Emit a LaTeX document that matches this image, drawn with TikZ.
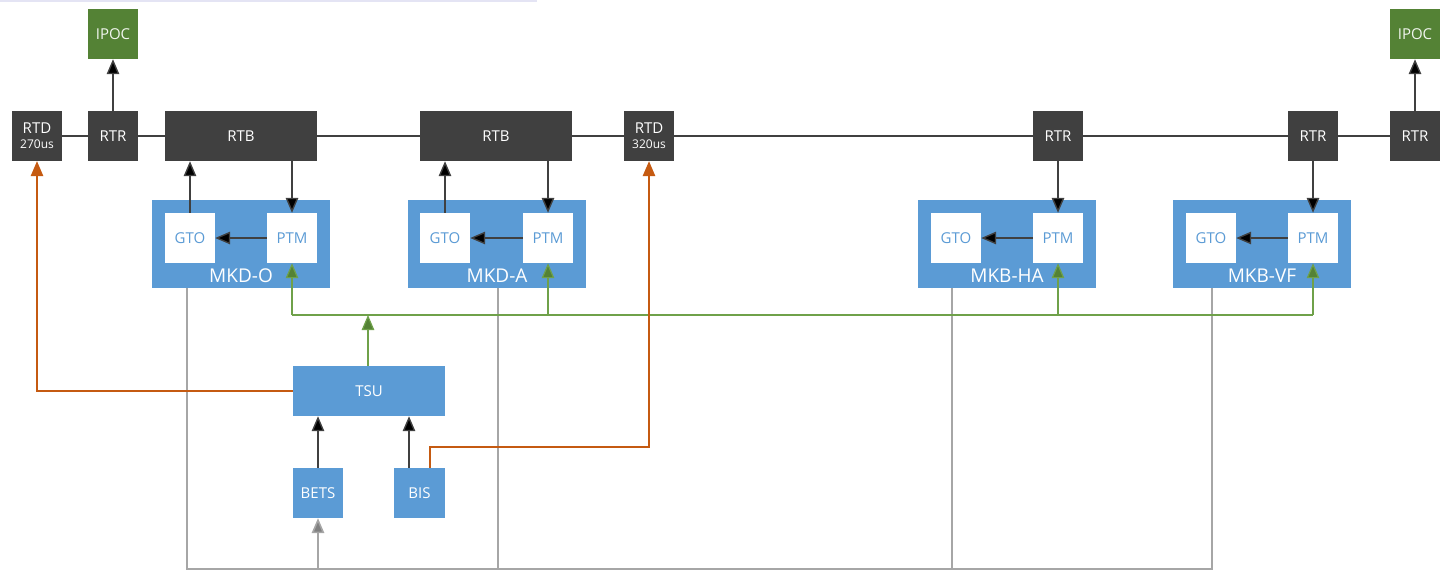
\documentclass[tikz,border=0pt]{standalone}
\usepackage{fontspec}
\setmainfont{Open Sans}
\usetikzlibrary{arrows.meta}
\definecolor{dk}{HTML}{404040}
\definecolor{bl}{HTML}{5B9BD5}
\definecolor{gn}{HTML}{548235}
\definecolor{gnl}{HTML}{6FA14A}
\definecolor{org}{HTML}{C55A11}
\definecolor{gy}{HTML}{A6A6A6}
\definecolor{lav}{HTML}{E4E4F4}
\tikzset{
  base/.style={inner sep=0pt, minimum height=50pt, font=\fontsize{15}{17}\selectfont},
  dbox/.style={base, fill=dk, text=white},
  gbox/.style={base, fill=gn, text=white!92!gn},
  bbox/.style={base, fill=bl, text=white},
  wbox/.style={base, fill=white, text=bl, minimum width=50pt},
  mkbox/.style={inner sep=0pt, fill=bl, minimum width=178pt, minimum height=88pt},
  mklab/.style={inner sep=0pt, text=white, font=\fontsize{19}{21}\selectfont},
  tip/.style={-{Triangle[width=12.5pt,length=15pt,fill=black]}},
  ln/.style={draw=dk, line width=1.4pt},
  arr/.style={ln, tip},
  grn/.style={draw=gnl, line width=1.2pt},
  garr/.style={grn, -{Triangle[width=12.5pt,length=15pt,fill=gn]}},
  oarr/.style={draw=org, line width=1.3pt, -{Triangle[width=12.5pt,length=15pt]}},
  gry/.style={draw=gy, line width=1.6pt},
  garrow/.style={gry, -{Triangle[width=12.5pt,length=15pt,fill=gray]}},
}
\begin{document}
\begin{tikzpicture}[x=1pt,y=-1pt]
\useasboundingbox (0,0) rectangle (1443,571);
\fill[lav] (0,0) rectangle (537,1.5);

% top row
\node[gbox, minimum width=50pt] (ipocL) at (113,34) {IPOC};
\node[gbox, minimum width=50pt] (ipocR) at (1415,34) {IPOC};
\node[dbox, minimum width=50pt, align=center] (rtdL) at (37,136) {RTD\\[-2pt]{\fontsize{12}{13}\selectfont 270us}};
\node[dbox, minimum width=50pt] (rtrL) at (113,136) {RTR};
\node[dbox, minimum width=152pt] (rtb1) at (241,136) {RTB};
\node[dbox, minimum width=152pt] (rtb2) at (496,136) {RTB};
\node[dbox, minimum width=50pt, align=center] (rtd2) at (649,136) {RTD\\[-2pt]{\fontsize{12}{13}\selectfont 320us}};
\node[dbox, minimum width=50pt] (rtr3) at (1058,136) {RTR};
\node[dbox, minimum width=50pt] (rtr4) at (1313,136) {RTR};
\node[dbox, minimum width=50pt] (rtr5) at (1415,136) {RTR};

% MK boxes
\node[mkbox] (mkdO) at (241,244) {};
\node[mkbox] (mkdA) at (497,244) {};
\node[mkbox] (mkbH) at (1007,244) {};
\node[mkbox] (mkbV) at (1262,244) {};
\node[wbox] (gtoO) at (190,238) {GTO};
\node[wbox] (ptmO) at (292,238) {PTM};
\node[wbox] (gtoA) at (445,238) {GTO};
\node[wbox] (ptmA) at (548,238) {PTM};
\node[wbox] (gtoH) at (956,238) {GTO};
\node[wbox] (ptmH) at (1058,238) {PTM};
\node[wbox] (gtoV) at (1211,238) {GTO};
\node[wbox] (ptmV) at (1313,238) {PTM};
\node[mklab] (labO) at (241,276) {MKD-O};
\node[mklab] (labA) at (497,276) {MKD-A};
\node[mklab] (labH) at (1007,276) {MKB-HA};
\node[mklab] (labV) at (1262,276) {MKB-VF};

% lower nodes
\node[bbox, minimum width=152pt] (tsu) at (369,391) {TSU};
\node[bbox, minimum width=50pt] (bets) at (318,493) {BETS};
\node[bbox, minimum width=51pt] (bis) at (419.5,493) {BIS};

% coordinates
\coordinate (gL) at (292,315);
\coordinate (gR) at (1313,315);
\coordinate (ob) at (649,447);
\coordinate (b1) at (187,569);
\coordinate (b2) at (498,569);
\coordinate (b3) at (952,569);
\coordinate (b4) at (1212,569);

% main bus
\draw[ln] (rtdL) -- (rtrL) -- (rtb1) -- (rtb2) -- (rtd2) -- (rtr3) -- (rtr4) -- (rtr5);
\draw[arr] (rtrL) -- (ipocL);
\draw[arr] (rtr5) -- (ipocR);

% RTB / RTR to modules
\draw[arr] (gtoO.north) -- (gtoO.north |- rtb1.south);
\draw[arr] (rtb1.south -| ptmO) -- (ptmO.north);
\draw[arr] (gtoA.north) -- (gtoA.north |- rtb2.south);
\draw[arr] (rtb2.south -| ptmA) -- (ptmA.north);
\draw[arr] (rtr3) -- (ptmH);
\draw[arr] (rtr4) -- (ptmV);
\draw[arr] (ptmO) -- (gtoO);
\draw[arr] (ptmA) -- (gtoA);
\draw[arr] (ptmH) -- (gtoH);
\draw[arr] (ptmV) -- (gtoV);

% gray bottom bus
\draw[gry] (b1 |- mkdO.south) -- (b1) -- (b4) -- (b4 |- mkbV.south);
\draw[gry] (b2 |- mkdA.south) -- (b2);
\draw[gry] (b3 |- mkbH.south) -- (b3);
\draw[garrow] (bets.south |- b1) -- (bets.south);

% green sync bus
\draw[grn] (gL) -- (gR);
\draw[garr] (gL) -- (ptmO.south);
\draw[garr] (ptmA.south |- gL) -- (ptmA.south);
\draw[garr] (ptmH.south |- gL) -- (ptmH.south);
\draw[garr] (gR) -- (ptmV.south);
\draw[garr] ([xshift=-1pt]tsu.north) -- ([xshift=-1pt]tsu.north |- gL);

% TSU inputs
\draw[arr] (bets.north) -- (bets.north |- tsu.south);
\draw[arr] ([xshift=-10.5pt]bis.north) -- ([xshift=-10.5pt]bis.north |- tsu.south);

% orange
\draw[oarr] (tsu.west) -| (rtdL.south);
\draw[oarr] ([xshift=10.5pt]bis.north) |- (rtd2.south |- ob) -- (rtd2.south);
\end{tikzpicture}
\end{document}
